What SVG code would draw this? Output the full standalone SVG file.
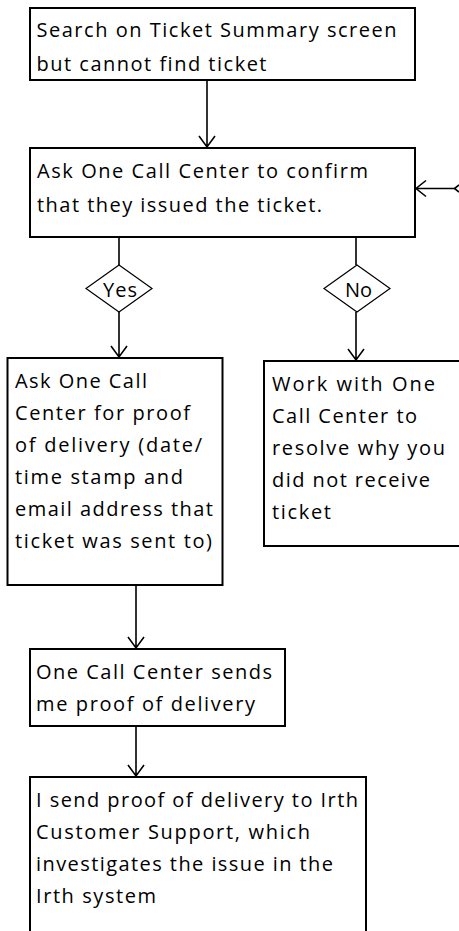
<svg xmlns="http://www.w3.org/2000/svg" width="459" height="931" viewBox="0 0 459 931">
<style>
.box{fill:#fff;stroke:#000;stroke-width:2}
.dia{fill:#fff;stroke:#000;stroke-width:1.2}
.ln{fill:none;stroke:#000;stroke-width:1.6}
text{font-family:"Open Sans",Lato,"Liberation Sans",sans-serif;font-size:20px;font-weight:500;fill:#000;font-variant-ligatures:none}
</style>
<rect width="459" height="931" fill="#fff"/>
<g id="connectors">
<path class="ln" d="M207,80V147M199,136L207,147L215,136"/>
<path class="ln" d="M455,188.5H416M426,180.5L416,188.5L426,196.5"/>
<path class="ln" d="M459,185L454.5,188.5L459,192"/>
<path class="ln" d="M119,237V265M119,312V357M111,346L119,357L127,346"/>
<path class="ln" d="M356,237V265M356,312V360M348,349L356,360L364,349"/>
<path class="ln" d="M136,585V648M128,637L136,648L144,637"/>
<path class="ln" d="M136,726V776M128,765L136,776L144,765"/>
</g>
<g id="n1">
<rect class="box" x="30" y="8" width="385" height="72"/>
<text x="36.5" y="37" textLength="360" lengthAdjust="spacing">Search on Ticket Summary screen</text>
<text x="36.5" y="71" textLength="230" lengthAdjust="spacing">but cannot find ticket</text>
</g>
<g id="n2">
<rect class="box" x="30" y="148" width="385" height="89"/>
<text x="37" y="178" textLength="331" lengthAdjust="spacing">Ask One Call Center to confirm</text>
<text x="37" y="212" textLength="285" lengthAdjust="spacing">that they issued the ticket.</text>
</g>
<g id="d-yes">
<polygon class="dia" points="86,288.5 119,265 152,288.5 119,312"/>
<text x="120" y="297" text-anchor="middle" textLength="34" lengthAdjust="spacing">Yes</text>
</g>
<g id="d-no">
<polygon class="dia" points="324,288.5 357,265 390,288.5 357,312"/>
<text x="358.5" y="297" text-anchor="middle" textLength="27" lengthAdjust="spacing">No</text>
</g>
<g id="n3">
<rect class="box" x="7.5" y="358" width="215" height="227"/>
<text x="15" y="388" textLength="132" lengthAdjust="spacing">Ask One Call</text>
<text x="15" y="420" textLength="175" lengthAdjust="spacing">Center for proof</text>
<text x="15" y="452" textLength="187" lengthAdjust="spacing">of delivery (date/</text>
<text x="15" y="484" textLength="168" lengthAdjust="spacing">time stamp and</text>
<text x="15" y="516" textLength="198" lengthAdjust="spacing">email address that</text>
<text x="15" y="548" textLength="197" lengthAdjust="spacing">ticket was sent to)</text>
</g>
<g id="n4">
<rect class="box" x="264" y="361" width="210" height="185"/>
<text x="272" y="391" textLength="163" lengthAdjust="spacing">Work with One</text>
<text x="272" y="423" textLength="145" lengthAdjust="spacing">Call Center to</text>
<text x="272" y="455" textLength="173" lengthAdjust="spacing">resolve why you</text>
<text x="272" y="487" textLength="158" lengthAdjust="spacing">did not receive</text>
<text x="272" y="519" textLength="59" lengthAdjust="spacing">ticket</text>
</g>
<g id="n5">
<rect class="box" x="30" y="649" width="255" height="77"/>
<text x="36" y="679" textLength="236" lengthAdjust="spacing">One Call Center sends</text>
<text x="36" y="711" textLength="219" lengthAdjust="spacing">me proof of delivery</text>
</g>
<g id="n6">
<rect class="box" x="30" y="777" width="336" height="170"/>
<text x="36" y="807" textLength="322" lengthAdjust="spacing">I send proof of delivery to Irth</text>
<text x="36" y="839" textLength="274" lengthAdjust="spacing">Customer Support, which</text>
<text x="36" y="871" textLength="297" lengthAdjust="spacing">investigates the issue in the</text>
<text x="36" y="903" textLength="120" lengthAdjust="spacing">Irth system</text>
</g>
</svg>
